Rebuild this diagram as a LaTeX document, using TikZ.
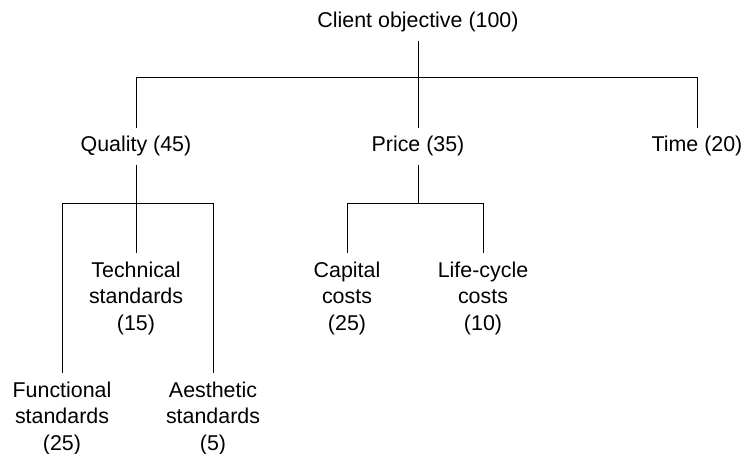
\documentclass[tikz,border=0pt]{standalone}
\usepackage{fontspec}
\setmainfont{Liberation Sans}
\usepackage{tikz}
\usetikzlibrary{positioning}

\tikzset{
  lbl/.style={align=center, inner sep=8pt},
  kid/.style={lbl, anchor=north}
}

\begin{document}
\begin{tikzpicture}[x=1pt, y=-1pt, line width=1pt,
    font=\fontsize{21.4}{26.5}\selectfont]
        \useasboundingbox (0,0) rectangle (746,454);

        % Top level
        \node[lbl, anchor=base] (root) at (418,28) {Client objective (100)};

        % Main criteria
        \node[lbl, anchor=base] (qual) at (136,152) {Quality (45)};
        \node[lbl, anchor=base] (price) at (418,152) {Price (35)};
        \node[lbl, anchor=base] (time) at (697,152) {Time (20)};

        % Quality breakdown
        \node[kid] (tech) at (136,253) {Technical\\standards\\(15)};
        \node[kid] (func) at (62,373) {Functional\\standards\\(25)};
        \node[kid] (aest) at (213,373) {Aesthetic\\standards\\(5)};

        % Price breakdown
        \node[kid] (capcost) at (347,253) {Capital\\costs\\(25)};
        \node[kid] (lifecost) at (483,253) {Life-cycle\\costs\\(10)};

        % Links
        \draw (root.south) -- ++(0,37) -| (qual.north);
        \draw (root.south) -- (price.north);
        \draw (root.south) -- ++(0,37) -| (time.north);

        \draw (qual.south) -- ++(0,39) -| (func.north);
        \draw (qual.south) -- (tech.north);
        \draw (qual.south) -- ++(0,39) -| (aest.north);

        \draw (price.south) -- ++(0,39) -| (capcost.north);
        \draw (price.south) -- ++(0,39) -| (lifecost.north);
    \end{tikzpicture}
\end{document}
